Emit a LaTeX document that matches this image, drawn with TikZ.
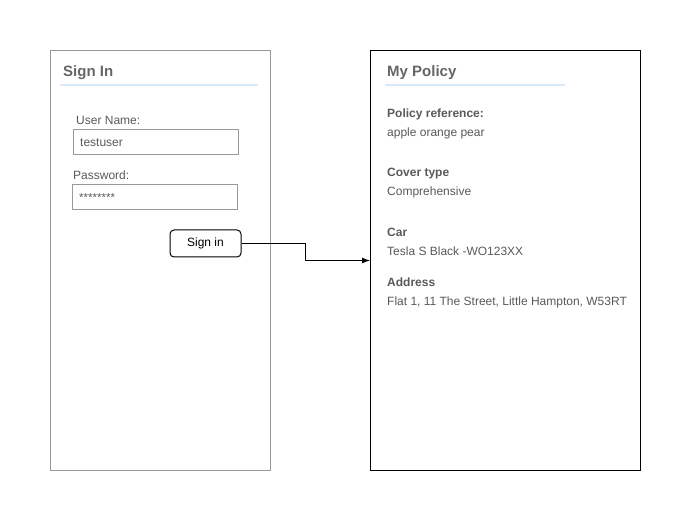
\documentclass[tikz,border=0pt]{standalone}
\usepackage{fontspec}
\usetikzlibrary{arrows.meta}
\setmainfont{Liberation Sans}
\definecolor{txt}{HTML}{595959}
\definecolor{ttl}{HTML}{666666}
\definecolor{panelgray}{HTML}{999999}
\definecolor{uline}{HTML}{DAE8FC}
\tikzset{
  lbl/.style={anchor=base west, inner sep=0pt, font=\fontsize{12}{14}\selectfont, text=txt},
  bl/.style={lbl, font=\fontsize{12}{14}\selectfont\bfseries},
  ttlstyle/.style={anchor=base west, inner sep=0pt, font=\fontsize{15}{17}\selectfont\bfseries, text=ttl},
  field/.style={draw=panelgray, line width=1pt},
  sep/.style={draw=uline, line width=2pt},
}
\begin{document}
\begin{tikzpicture}[x=1pt,y=-1pt]
\useasboundingbox (0,0) rectangle (691,521);
% left panel
\node[draw=panelgray, line width=1pt, minimum width=220pt, minimum height=420pt, inner sep=0pt, anchor=north west] (signin) at (50,50) {};
\node[ttlstyle] (t1) at (63,77) {Sign In};
\draw[sep] (60,85) -- (258,85);
\node[lbl] (un) at (76,125) {User Name:};
\node[field, minimum width=165pt, minimum height=25pt, inner sep=0pt, anchor=north west] (unbox) at (73,129) {};
\node[lbl] (unv) at (80,147) {testuser};
\node[lbl] (pw) at (73,180) {Password:};
\node[field, minimum width=165pt, minimum height=25pt, inner sep=0pt, anchor=north west] (pwbox) at (72,184) {};
\node[lbl, font=\fontsize{11.5}{13}\selectfont] (pwv) at (79,202) {********};
\node[draw=black, line width=1pt, rounded corners=4pt, minimum width=71pt, minimum height=27pt, inner sep=0pt, font=\fontsize{12}{14}\selectfont] (btn) at (205.5,243.5) {\raisebox{-1pt}{Sign in}};
% right panel
\node[draw=black, line width=1pt, minimum width=270pt, minimum height=420pt, inner sep=0pt, anchor=north west] (policy) at (370,50) {};
\node[ttlstyle] (t2) at (387,77) {My Policy};
\draw[sep] (385,85) -- (565,85);
\node[bl] (pr) at (387,118) {Policy reference:};
\node[lbl] (prv) at (387,137) {apple orange pear};
\node[bl] (ct) at (387,177) {Cover type};
\node[lbl] (ctv) at (387,196) {Comprehensive};
\node[bl] (car) at (387,237) {Car};
\node[lbl] (carv) at (387,256) {Tesla S Black -WO123XX};
\node[bl] (ad) at (387,287) {Address};
\node[lbl] (adv) at (387,306) {Flat 1, 11 The Street, Little Hampton, W53RT};
% connector
\draw[line width=1pt, -{Latex[length=8pt,width=6pt]}] (btn.east) -- ++(64,0) |- (policy.west);
\end{tikzpicture}
\end{document}
